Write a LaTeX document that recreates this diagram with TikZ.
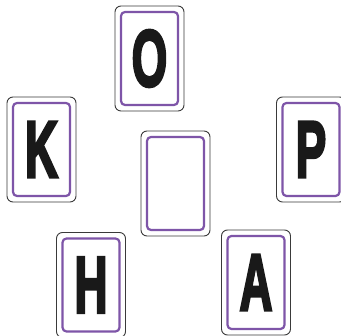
\documentclass[tikz,border=0pt]{standalone}
\usepackage{fontspec}
\setmainfont{Liberation Sans}
\newfontfamily\heavyfont{Liberation Sans Bold}[FakeBold=4]
\definecolor{cardpurple}{HTML}{7E55A8}
\definecolor{cardgray}{HTML}{3A3A3A}
\tikzset{
  outercard/.style={draw=cardgray, line width=0.9pt, rounded corners=6pt, minimum width=69pt, minimum height=105pt, inner sep=0pt, fill=white},
  innercard/.style={draw=cardpurple, line width=2.2pt, rounded corners=4pt, minimum width=57pt, minimum height=93pt, inner sep=0pt,
    font=\heavyfont\fontsize{80}{80}\selectfont, text=black!90},
}
\newcommand{\cardletter}[1]{\scalebox{0.57}[1]{#1}}
\begin{document}
\begin{tikzpicture}[x=1pt,y=-1pt]
\useasboundingbox (0,0) rectangle (341,336);
\node[outercard] (oO) at (149.5,58.5) {};
\node[innercard] (iO) at (oO.center) {\cardletter{O}};
\node[outercard] (oK) at (41.5,149.5) {};
\node[innercard] (iK) at (oK.center) {\cardletter{K}};
\node[outercard] (oC) at (175.5,183.5) {};
\node[innercard] (iC) at (oC.center) {};
\node[outercard] (oP) at (311,149.5) {};
\node[innercard] (iP) at (oP.center) {\cardletter{P}};
\node[outercard] (oH) at (91,285) {};
\node[innercard] (iH) at (oH.center) {\cardletter{H}};
\node[outercard] (oA) at (256,282.5) {};
\node[innercard] (iA) at (oA.center) {\cardletter{A}};
\end{tikzpicture}
\end{document}
